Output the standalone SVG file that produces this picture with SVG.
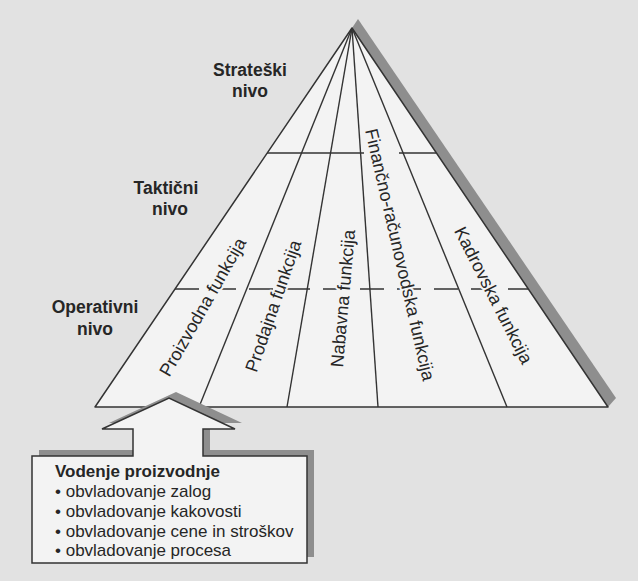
<svg xmlns="http://www.w3.org/2000/svg" width="638" height="581" viewBox="0 0 638 581">
<style>
.ln{stroke:#333;stroke-width:1.4;fill:none}
.shadow{fill:#8e8e8e}
.lvl{font-family:"Liberation Sans",Arial,sans-serif;font-weight:bold;font-size:17.5px;fill:#262626;text-anchor:middle}
.fn{font-family:"Liberation Sans",Arial,sans-serif;font-size:18px;fill:#262626;text-anchor:middle;stroke:#f3f3f3;stroke-width:4;paint-order:stroke;stroke-linejoin:round}
.bx{font-family:"Liberation Sans",Arial,sans-serif;font-size:17px;fill:#262626}
</style>
<rect width="638" height="581" fill="#e2e2e2"/>
<g id="pyramid">
<polygon class="shadow" points="352,28 358,19 616,398 608,407"/>
<polygon points="352,28 95,407 608,407" fill="#f3f3f3" stroke="#333" stroke-width="1.5" stroke-linejoin="round"/>
</g>
<g id="connectors">
<line class="ln" x1="352" y1="28" x2="199" y2="407"/>
<line class="ln" x1="352" y1="28" x2="287" y2="407"/>
<line class="ln" x1="352" y1="28" x2="378" y2="407"/>
<line class="ln" x1="352" y1="28" x2="507" y2="407"/>
<line class="ln" x1="267" y1="153" x2="364" y2="153"/>
<line class="ln" x1="399" y1="153" x2="436" y2="153"/>
<line class="ln" x1="175" y1="289" x2="528" y2="289" stroke-dasharray="24 13"/>
</g>
<g id="levels">
<text class="lvl" x="250" y="76">Strateški</text>
<text class="lvl" x="250" y="97">nivo</text>
<text class="lvl" x="166" y="194">Taktični</text>
<text class="lvl" x="170" y="215">nivo</text>
<text class="lvl" x="95" y="313">Operativni</text>
<text class="lvl" x="95" y="335">nivo</text>
</g>
<g id="functions">
<text class="fn" transform="translate(208,310) rotate(-60.3)">Proizvodna funkcija</text>
<text class="fn" transform="translate(279,308) rotate(-71)">Prodajna funkcija</text>
<text class="fn" transform="translate(349,299) rotate(-85)">Nabavna funkcija</text>
<text class="fn" transform="translate(394,256) rotate(77)">Finančno-računovodska funkcija</text>
<text class="fn" transform="translate(488,298) rotate(63)">Kadrovska funkcija</text>
</g>
<g id="production-box">
<polygon class="shadow" points="39,450 140,450 140,423 109,423 176,392 242,423 210,423 210,450 314,450 314,557 39,557"/>
<polygon points="32,456 133,456 133,429 102,429 169,398 235,429 203,429 203,456 307,456 307,563 32,563" fill="#f3f3f3" stroke="#333" stroke-width="1.5" stroke-linejoin="miter"/>
<text class="bx" x="55" y="477" font-weight="bold" font-size="17.5">Vodenje proizvodnje</text>
<text class="bx" x="55" y="497">• obvladovanje zalog</text>
<text class="bx" x="55" y="517">• obvladovanje kakovosti</text>
<text class="bx" x="55" y="537">• obvladovanje cene in stroškov</text>
<text class="bx" x="55" y="556">• obvladovanje procesa</text>
</g>
</svg>
